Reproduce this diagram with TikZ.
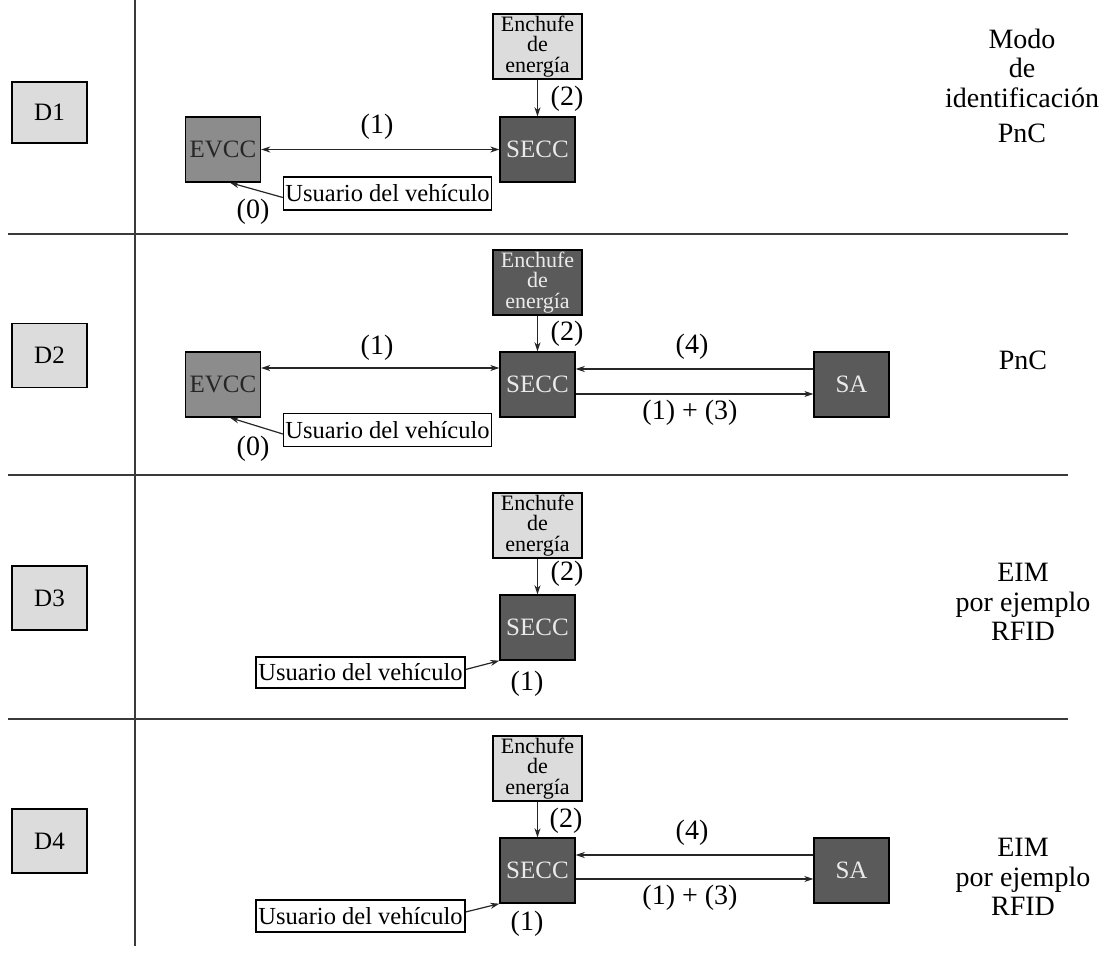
\documentclass[tikz,border=0pt]{standalone}
\usepackage{fontspec}
\setmainfont{Liberation Serif}
\usetikzlibrary{arrows.meta,calc}
\definecolor{lightfill}{HTML}{DCDCDC}
\definecolor{midfill}{HTML}{8C8C8C}
\definecolor{darkfill}{HTML}{5A5A5A}
\definecolor{palet}{HTML}{EAEAEA}
\definecolor{sepline}{HTML}{3A3A3A}
\begin{document}
\begin{tikzpicture}[x=1pt,y=-1pt,
  box/.style={draw=black,line width=1.4pt,minimum width=75pt,minimum height=65pt,inner sep=0pt,font=\fontsize{25}{25}\selectfont},
  dbox/.style={box,fill=lightfill,minimum height=61pt},
  evccbox/.style={box,fill=midfill,text=black!85},
  darkbox/.style={box,fill=darkfill,text=palet},
  plugbox/.style={box,fill=lightfill,minimum width=89pt,inner sep=1pt,align=center,font=\fontsize{22}{20.5}\selectfont},
  plugdark/.style={plugbox,fill=darkfill,text=palet},
  userbox/.style={draw=black,line width=1.2pt,fill=white,minimum height=33pt,inner sep=2pt,font=\fontsize{24.5}{24.5}\selectfont},
  lbl/.style={inner sep=0pt,font=\fontsize{28}{28}\selectfont},
  side/.style={inner sep=0pt,align=center,font=\fontsize{28}{29.5}\selectfont},
  conn/.style={line width=1.2pt,draw=black!85,-{Stealth[length=9pt,width=6pt]}},
  dconn/.style={line width=1.2pt,draw=black!85,{Stealth[length=9pt,width=6pt]}-{Stealth[length=9pt,width=6pt]}},
  sep/.style={line width=2.6pt,draw=sepline}
]
\useasboundingbox (0,0) rectangle (1104,960);
\fill[white] (0,0) rectangle (1104,960);

% grid lines
\coordinate (vtop) at (135,0);
\coordinate (vbot) at (135,946);
\draw[line width=2.2pt,draw=sepline] (vtop) -- (vbot);
\coordinate (h1a) at (8,234);  \coordinate (h1b) at (1068,234);
\coordinate (h2a) at (8,475);  \coordinate (h2b) at (1068,475);
\coordinate (h3a) at (8,719);  \coordinate (h3b) at (1068,719);
\draw[sep] (h1a) -- (h1b);
\draw[sep] (h2a) -- (h2b);
\draw[sep] (h3a) -- (h3b);

% D labels
\node[dbox] (d1) at (49.5,112.5) {D1};
\node[dbox,minimum height=64pt] (d2) at (49.5,355.5) {D2};
\node[dbox,minimum height=64pt] (d3) at (49.5,598) {D3};
\node[dbox,minimum height=64pt] (d4) at (49.5,841) {D4};

% ---------- Row 1 ----------
\node[plugbox] (p1) at (537.5,46.5) {Enchufe\\de\\energía};
\node[darkbox] (s1) at (537.5,149.5) {SECC};
\node[evccbox] (e1) at (223,149.5) {EVCC};
\node[userbox,minimum width=201pt] (u1) at (387.5,193.5) {Usuario del vehículo};
\draw[conn] (p1.south) -- (s1.north);
\draw[dconn] (e1.east) -- (s1.west);
\draw[conn] ($(u1.west)+(0,4)$) -- ($(e1.south)+(7,0)$);
\node[lbl] (l1a) at (377,127) {(1)};
\node[lbl] (l1b) at (567,99) {(2)};
\node[lbl] (l1c) at (253,212) {(0)};
\node[side] (m1) at (1022,68) {Modo\\de\\identificación};
\node[side] (m1b) at (1022,133) {PnC};

% ---------- Row 2 ----------
\node[plugdark] (p2) at (537.5,282.5) {Enchufe\\de\\energía};
\node[darkbox] (s2) at (537.5,384.5) {SECC};
\node[evccbox] (e2) at (223,384.5) {EVCC};
\node[darkbox] (sa2) at (851.5,384.5) {SA};
\node[userbox,minimum width=201pt] (u2) at (387.5,430) {Usuario del vehículo};
\draw[conn] (p2.south) -- (s2.north);
\draw[dconn] (e2.east |- 0,368) -- (s2.west |- 0,368);
\draw[conn] (sa2.west |- 0,369) -- (s2.east |- 0,369);
\draw[conn] (s2.east |- 0,394) -- (sa2.west |- 0,394);
\draw[conn] ($(u2.west)+(0,4)$) -- ($(e2.south)+(7,0)$);
\node[lbl] (l2a) at (377,348) {(1)};
\node[lbl] (l2b) at (567,334) {(2)};
\node[lbl] (l2c) at (253,449) {(0)};
\node[lbl] (l2d) at (692,347) {(4)};
\node[lbl] (l2e) at (690,413) {(1) + (3)};
\node[side] (m2) at (1023,360) {PnC};

% ---------- Row 3 ----------
\node[plugbox] (p3) at (537.5,525.5) {Enchufe\\de\\energía};
\node[darkbox] (s3) at (537.5,627.5) {SECC};
\node[userbox,minimum width=209pt,minimum height=31pt] (u3) at (360.5,672.5) {Usuario del vehículo};
\draw[conn] (p3.south) -- (s3.north);
\draw[conn] ($(u3.east)+(0,-3)$) -- (s3.south west);
\node[lbl] (l3a) at (567,574) {(2)};
\node[lbl] (l3b) at (527,684) {(1)};
\node[side] (m3) at (1023,602) {EIM\\por ejemplo\\RFID};

% ---------- Row 4 ----------
\node[plugbox] (p4) at (537.5,768.5) {Enchufe\\de\\energía};
\node[darkbox] (s4) at (537.5,870.5) {SECC};
\node[darkbox] (sa4) at (851.5,870.5) {SA};
\node[userbox,minimum width=209pt,minimum height=32pt] (u4) at (360.5,916) {Usuario del vehículo};
\draw[conn] (p4.south) -- (s4.north);
\draw[conn] (sa4.west |- 0,855) -- (s4.east |- 0,855);
\draw[conn] (s4.east |- 0,879) -- (sa4.west |- 0,879);
\draw[conn] ($(u4.east)+(0,-4)$) -- (s4.south west);
\node[lbl] (l4a) at (566,821) {(2)};
\node[lbl] (l4b) at (527,924) {(1)};
\node[lbl] (l4c) at (692,833) {(4)};
\node[lbl] (l4d) at (690,898) {(1) + (3)};
\node[side] (m4) at (1023,877) {EIM\\por ejemplo\\RFID};
\end{tikzpicture}
\end{document}
